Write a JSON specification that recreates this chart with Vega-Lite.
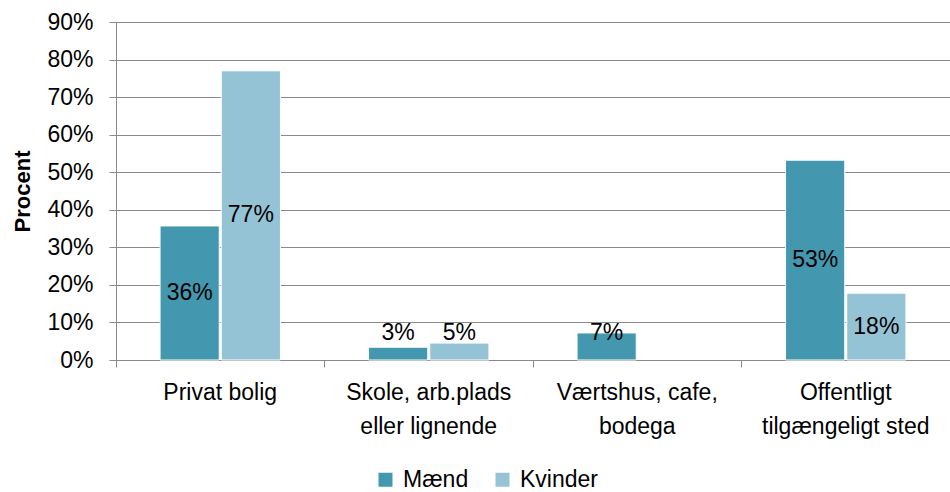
{
  "$schema": "https://vega.github.io/schema/vega-lite/v6.json",
  "width": 834,
  "height": 338,
  "autosize": "none",
  "padding": {"left": 116, "top": 22, "right": 0, "bottom": 132},
  "background": "white",
  "config": {
    "font": "Liberation Sans",
    "view": {"stroke": null},
    "axisY": {
      "titleFontSize": 22,
      "titleFontWeight": "bold",
      "titleColor": "#000000",
      "titlePadding": 12,
      "format": ".0%",
      "values": [0, 0.1, 0.2, 0.3, 0.4, 0.5, 0.6, 0.7, 0.8, 0.9],
      "labelOverlap": false,
      "labelFontSize": 23,
      "labelColor": "#000000",
      "labelPadding": 16,
      "domainColor": "#8a8a8a",
      "tickColor": "#8a8a8a",
      "tickSize": 7,
      "grid": true,
      "gridColor": "#8a8a8a",
      "gridWidth": 1
    }
  },
  "data": {
    "values": [
      {"sted": "Privat bolig", "koen": "Mænd", "andel": 0.357},
      {"sted": "Privat bolig", "koen": "Kvinder", "andel": 0.77},
      {"sted": "Skole, arb.plads eller lignende", "koen": "Mænd", "andel": 0.034},
      {"sted": "Skole, arb.plads eller lignende", "koen": "Kvinder", "andel": 0.045},
      {"sted": "Værtshus, cafe, bodega", "koen": "Mænd", "andel": 0.072},
      {"sted": "Offentligt tilgængeligt sted", "koen": "Mænd", "andel": 0.532},
      {"sted": "Offentligt tilgængeligt sted", "koen": "Kvinder", "andel": 0.178}
    ]
  },
  "encoding": {
    "x": {
      "field": "sted",
      "type": "nominal",
      "sort": null,
      "scale": {"paddingInner": 0, "paddingOuter": 0},
      "axis": {
        "title": null,
        "labelAngle": 0,
        "bandPosition": 0,
        "domainColor": "#8a8a8a",
        "tickColor": "#8a8a8a",
        "tickSize": 7,
        "labelFontSize": 23,
        "labelColor": "#000000",
        "labelPadding": 14,
        "labelLineHeight": 34,
        "labelBaseline": "top",
        "labelOverlap": false,
        "labelBound": false,
        "labelExpr": "datum.value == 'Skole, arb.plads eller lignende' ? ['Skole, arb.plads', 'eller lignende'] : datum.value == 'Værtshus, cafe, bodega' ? ['Værtshus, cafe,', 'bodega'] : datum.value == 'Offentligt tilgængeligt sted' ? ['Offentligt', 'tilgængeligt sted'] : datum.value"
      }
    },
    "xOffset": {
      "field": "koen",
      "type": "nominal",
      "sort": ["Mænd", "Kvinder"],
      "scale": {"paddingInner": 0.033, "paddingOuter": 0.72}
    }
  },
  "layer": [
    {
      "mark": {"type": "bar", "stroke": "white", "strokeWidth": 1},
      "encoding": {
        "y": {
          "field": "andel",
          "type": "quantitative",
          "scale": {"domain": [0, 0.9], "nice": false},
          "axis": {"title": "Procent"}
        },
        "color": {
          "field": "koen",
          "type": "nominal",
          "sort": ["Mænd", "Kvinder"],
          "scale": {"domain": ["Mænd", "Kvinder"], "range": ["#4397AE", "#93C3D5"]},
          "legend": {
            "title": null,
            "orient": "none",
            "legendX": 258,
            "legendY": 446,
            "direction": "horizontal",
            "symbolType": "square",
            "symbolSize": 196,
            "symbolStrokeWidth": 0,
            "labelFontSize": 23,
            "labelColor": "#000000",
            "labelOffset": 6,
            "columnPadding": 22
          }
        }
      }
    },
    {
      "transform": [
        {"calculate": "max(datum.andel / 2, 0.072)", "as": "labelPos"}
      ],
      "mark": {"type": "text", "fontSize": 23, "color": "#000000", "baseline": "middle", "align": "center"},
      "encoding": {
        "y": {"field": "labelPos", "type": "quantitative", "axis": {"title": "Procent"}},
        "text": {"field": "andel", "type": "quantitative", "format": ".0%"}
      }
    }
  ]
}
